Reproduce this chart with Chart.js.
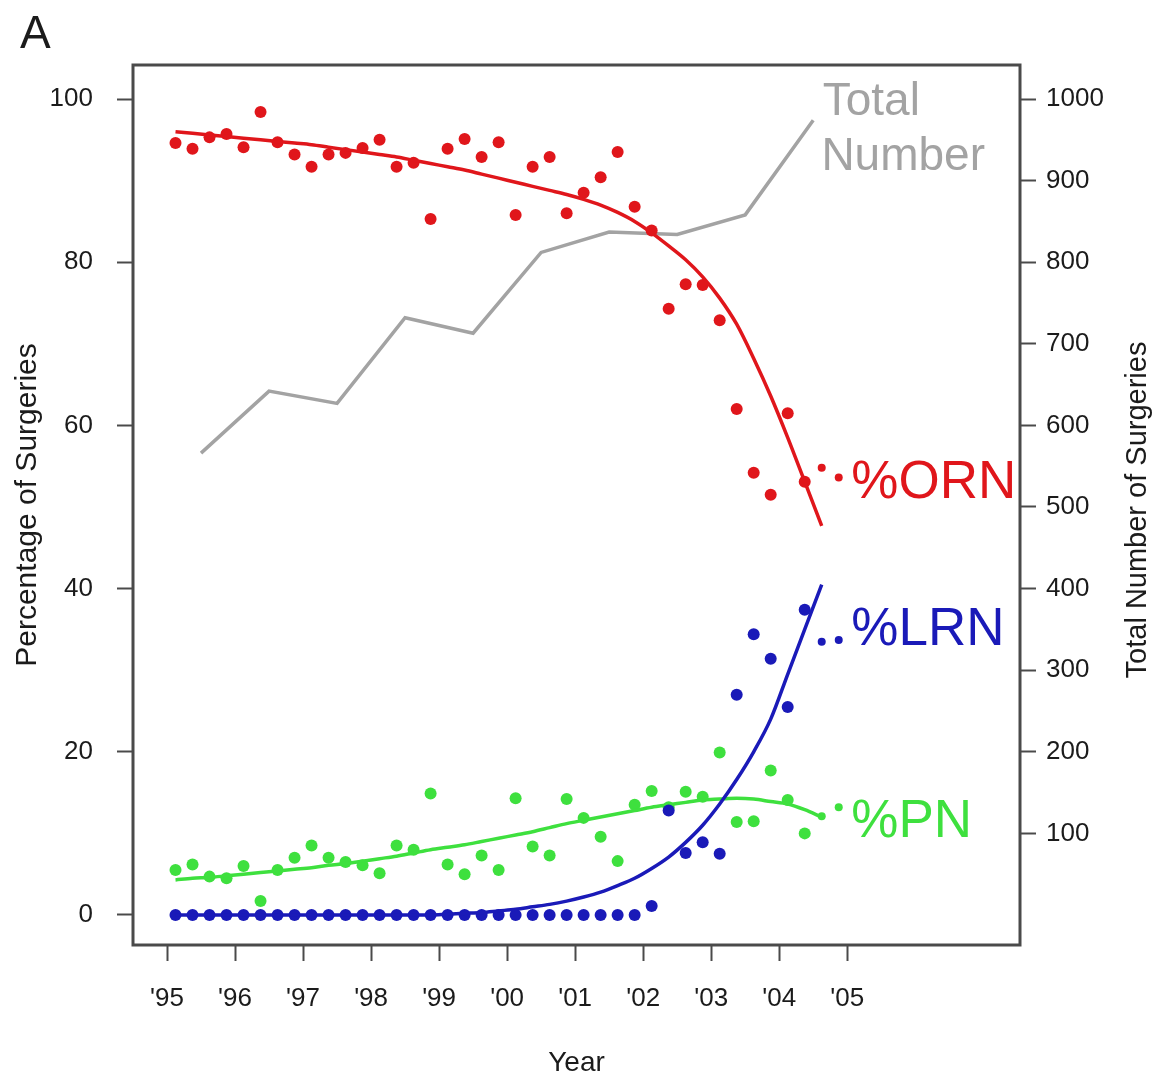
<!DOCTYPE html>
<html>
<head>
<meta charset="utf-8">
<title>Surgeries by year</title>
<script src="https://cdn.jsdelivr.net/npm/chart.js@4.4.1/dist/chart.umd.min.js"></script>
<style>
  body { margin: 0; background: #fff; }
  canvas { display: block; }
</style>
</head>
<body>
<canvas id="chart" width="1157" height="1081"></canvas>
<script>
const color = {
  Red: "#e0161b",
  Blue: "#1a1ab8",
  Green: "#3ee03e",
  Gray: "#a3a3a3",
  Axis: "#4a4a4a",
  Text: "#1b1b1b",
};
const FONT = '"Liberation Sans", Arial, sans-serif';

// one point per quarter, 1995 Q1 .. 2004 Q4
const years = [1995, 1996, 1997, 1998, 1999, 2000, 2001, 2002, 2003, 2004];
const quarters = [1, 2, 3, 4];

const ornPoints = [94.6, 93.9, 95.3, 95.7, 94.1, 98.4, 94.7, 93.2, 91.7, 93.2,
  93.4, 94.0, 95.0, 91.7, 92.2, 85.3, 93.9, 95.1, 92.9, 94.7,
  85.8, 91.7, 92.9, 86.0, 88.5, 90.4, 93.5, 86.8, 83.9, 74.3,
  77.3, 77.2, 72.9, 62.0, 54.2, 51.5, 61.5, 53.1, 54.8, 53.6];
const lrnPoints = [0, 0, 0, 0, 0, 0, 0, 0, 0, 0,
  0, 0, 0, 0, 0, 0, 0, 0, 0, 0,
  0, 0, 0, 0, 0, 0, 0, 0, 1.1, 12.8,
  7.6, 8.9, 7.5, 27.0, 34.4, 31.4, 25.5, 37.4, 33.5, 33.7];
const pnPoints = [5.5, 6.2, 4.7, 4.5, 6.0, 1.7, 5.5, 7.0, 8.5, 7.0,
  6.5, 6.1, 5.1, 8.5, 8.0, 14.9, 6.2, 5.0, 7.3, 5.5,
  14.3, 8.4, 7.3, 14.2, 11.9, 9.6, 6.6, 13.5, 15.2, 13.2,
  15.1, 14.5, 19.9, 11.4, 11.5, 17.7, 14.1, 10.0, 12.1, 13.2];

// smoothed fits (1995 Q1 .. 2004 Q3)
const ornFit = [96.0, 95.8, 95.6, 95.4, 95.2, 95.0, 94.8, 94.6, 94.4, 94.1,
  93.8, 93.5, 93.2, 92.9, 92.5, 92.1, 91.7, 91.3, 90.8, 90.3,
  89.8, 89.3, 88.8, 88.3, 87.7, 87.0, 86.1, 85.0, 83.6, 82.0,
  80.3, 78.2, 75.6, 72.4, 68.2, 63.6, 58.5, 53.1, 47.7];
const lrnFit = [0, 0, 0, 0, 0, 0, 0, 0, 0, 0,
  0, 0, 0, 0, 0, 0, 0.1, 0.2, 0.3, 0.5,
  0.7, 1.0, 1.3, 1.7, 2.2, 2.8, 3.6, 4.5, 5.7, 7.1,
  8.9, 11.0, 13.6, 16.6, 20.0, 24.0, 29.5, 35.0, 40.5];
const pnFit = [4.3, 4.5, 4.6, 4.8, 5.0, 5.2, 5.4, 5.6, 5.8, 6.1,
  6.3, 6.6, 6.9, 7.2, 7.6, 8.0, 8.3, 8.6, 9.0, 9.4,
  9.8, 10.2, 10.7, 11.2, 11.6, 12.0, 12.4, 12.8, 13.2, 13.5,
  13.8, 14.1, 14.2, 14.3, 14.2, 13.9, 13.6, 12.9, 12.0];

// yearly totals, right axis
const totalSurgeries = [566, 642, 627, 732, 713, 812, 837, 834, 858, 974];

const yearTicks = [1995, 1996, 1997, 1998, 1999, 2000, 2001, 2002, 2003, 2004, 2005];
const yearLabels = ["'95", "'96", "'97", "'98", "'99", "'00", "'01", "'02", "'03", "'04", "'05"];
const pctTicks = [0, 20, 40, 60, 80, 100];
const totalTicks = [100, 200, 300, 400, 500, 600, 700, 800, 900, 1000];

const quarterX = years.flatMap((y) => quarters.map((q) => y + (q - 0.5) / 4));
const toXY = (values) => values.map((v, i) => ({ x: quarterX[i], y: v }));

function pointSet(values, c, order) {
  return {
    data: toXY(values),
    showLine: false,
    pointRadius: (ctx) => (ctx.dataIndex >= values.length - 2 ? 4 : 6),
    pointBackgroundColor: c,
    pointBorderWidth: 0,
    order: order,
  };
}
function fitSet(values, c, order) {
  return {
    data: toXY(values),
    borderColor: c,
    borderWidth: 3.5,
    pointRadius: 0,
    cubicInterpolationMode: "monotone",
    order: order,
  };
}

const boxAndLabels = {
  id: "boxAndLabels",
  afterDraw(chart) {
    const { ctx, chartArea: a, scales } = chart;
    const { x, y, y2 } = scales;
    ctx.save();
    ctx.strokeStyle = color.Axis;
    ctx.lineWidth = 3;
    ctx.strokeRect(a.left, a.top, a.right - a.left, a.bottom - a.top);

    ctx.textBaseline = "middle";
    ctx.textAlign = "left";
    ctx.font = "53px " + FONT;
    ctx.fillStyle = color.Red;
    ctx.fillText("%ORN", x.getPixelForValue(2005.06), y.getPixelForValue(52.9));
    ctx.fillStyle = color.Blue;
    ctx.fillText("%LRN", x.getPixelForValue(2005.06), y.getPixelForValue(34.9));
    ctx.fillStyle = color.Green;
    ctx.fillText("%PN", x.getPixelForValue(2005.06), y.getPixelForValue(11.4));

    ctx.textBaseline = "alphabetic";
    ctx.font = "46px " + FONT;
    ctx.fillStyle = color.Gray;
    ctx.fillText("Total", x.getPixelForValue(2004.64), y2.getPixelForValue(980));
    ctx.fillText("Number", x.getPixelForValue(2004.62), y2.getPixelForValue(913));

    ctx.fillStyle = color.Text;
    ctx.font = "46px " + FONT;
    ctx.fillText("A", 20, 48);

    // right axis title reads bottom to top
    ctx.translate(1138, (a.top + a.bottom) / 2 + 5);
    ctx.rotate(-Math.PI / 2);
    ctx.textAlign = "center";
    ctx.textBaseline = "middle";
    ctx.font = "29px " + FONT;
    ctx.fillText("Total Number of Surgeries", 0, 0);
    ctx.restore();
  },
};

const tickGrid = {
  drawOnChartArea: false,
  drawTicks: true,
  tickLength: 16,
  tickColor: color.Axis,
  tickWidth: 2,
};

const config = {
  type: "line",
  data: {
    datasets: [
      {
        data: totalSurgeries.map((v, i) => ({ x: years[i] + 0.5, y: v })),
        yAxisID: "y2",
        borderColor: color.Gray,
        borderWidth: 3.5,
        pointRadius: 0,
        tension: 0,
        order: 10,
      },
      pointSet(pnPoints, color.Green, 6),
      fitSet(pnFit, color.Green, 5),
      pointSet(lrnPoints, color.Blue, 4),
      fitSet(lrnFit, color.Blue, 3),
      pointSet(ornPoints, color.Red, 2),
      fitSet(ornFit, color.Red, 1),
    ],
  },
  options: {
    responsive: false,
    animation: false,
    layout: { padding: { top: 65, left: 0, right: 0, bottom: 0 } },
    plugins: { legend: { display: false }, tooltip: { enabled: false } },
    scales: {
      x: {
        type: "linear",
        min: 1994.5,
        max: 2007.54,
        grid: tickGrid,
        border: { display: false },
        afterBuildTicks: (s) => { s.ticks = yearTicks.map((v) => ({ value: v })); },
        afterFit: (s) => { s.height = 136; },
        ticks: {
          padding: 22,
          color: color.Text,
          font: { family: FONT, size: 26 },
          maxRotation: 0,
          autoSkip: false,
          callback: (v) => yearLabels[yearTicks.indexOf(v)],
        },
        title: {
          display: true,
          text: "Year",
          color: color.Text,
          font: { family: FONT, size: 28 },
          padding: { top: 0, bottom: 1 },
        },
      },
      y: {
        position: "left",
        min: -3.68,
        max: 104.17,
        grid: tickGrid,
        border: { display: false },
        afterBuildTicks: (s) => { s.ticks = pctTicks.map((v) => ({ value: v })); },
        afterFit: (s) => { s.width = 133; },
        ticks: {
          padding: 24,
          color: color.Text,
          font: { family: FONT, size: 26 },
          autoSkip: false,
          callback: (v) => String(v),
        },
        title: {
          display: true,
          text: "Percentage of Surgeries",
          color: color.Text,
          font: { family: FONT, size: 30 },
          padding: { top: 10, bottom: 0 },
        },
      },
      y2: {
        position: "right",
        min: -36.8,
        max: 1041.7,
        grid: tickGrid,
        border: { display: false },
        afterBuildTicks: (s) => { s.ticks = totalTicks.map((v) => ({ value: v })); },
        afterFit: (s) => { s.width = 137; },
        ticks: {
          padding: 10,
          color: color.Text,
          font: { family: FONT, size: 26 },
          autoSkip: false,
          callback: (v) => String(v),
        },
      },
    },
  },
  plugins: [boxAndLabels],
};

const myChart = new Chart(document.getElementById("chart"), config);
</script>
</body>
</html>
